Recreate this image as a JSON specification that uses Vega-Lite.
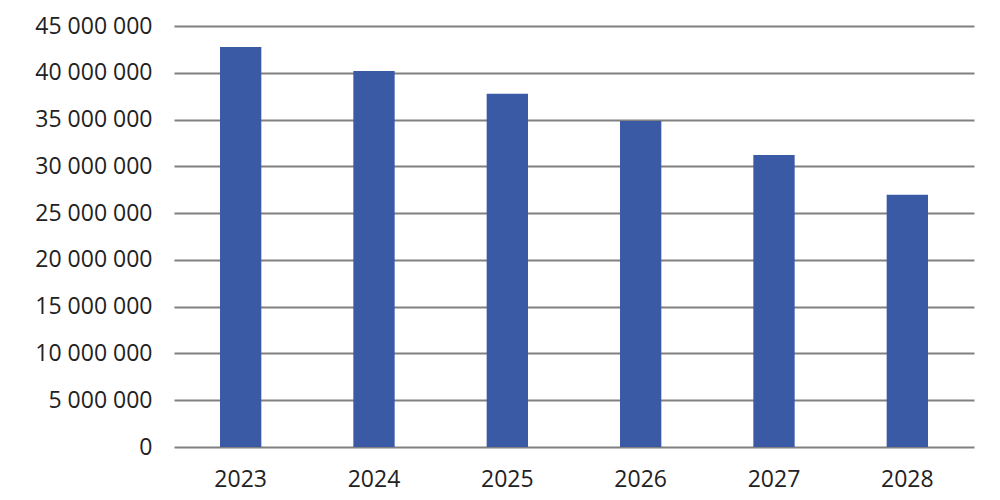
{
  "$schema": "https://vega.github.io/schema/vega-lite/v6.json",
  "width": 800,
  "height": 421,
  "autosize": {"type": "none"},
  "padding": {"left": 174, "top": 26, "right": 26, "bottom": 53},
  "background": "white",
  "config": {"view": {"stroke": null}, "font": "Open Sans"},
  "data": {
    "values": [
      {"year": "2023", "value": 42750000},
      {"year": "2024", "value": 40200000},
      {"year": "2025", "value": 37750000},
      {"year": "2026", "value": 34850000},
      {"year": "2027", "value": 31200000},
      {"year": "2028", "value": 26950000}
    ]
  },
  "mark": {"type": "bar", "color": "#3B5AA6"},
  "encoding": {
    "x": {
      "field": "year",
      "type": "ordinal",
      "scale": {"paddingInner": 0.69, "paddingOuter": 0.345},
      "axis": {
        "title": null,
        "labelAngle": 0,
        "domain": false,
        "ticks": false,
        "labelPadding": 21,
        "labelFontSize": 23,
        "labelColor": "#222222",
        "grid": false
      }
    },
    "y": {
      "field": "value",
      "type": "quantitative",
      "scale": {"domain": [0, 45000000], "nice": false},
      "axis": {
        "title": null,
        "values": [0, 5000000, 10000000, 15000000, 20000000, 25000000, 30000000, 35000000, 40000000, 45000000],
        "labelExpr": "replace(format(datum.value, ','), regexp(',', 'g'), ' ')",
        "domain": false,
        "ticks": false,
        "labelPadding": 22,
        "labelFontSize": 23,
        "labelColor": "#222222",
        "grid": true,
        "gridColor": "#808080",
        "gridWidth": 2,
        "gridOpacity": 1
      }
    }
  }
}
